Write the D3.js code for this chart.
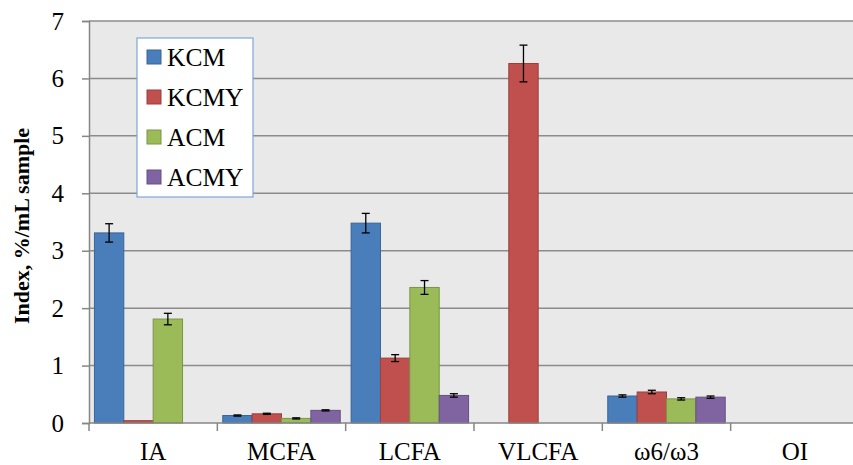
<!DOCTYPE html>
<html>
<head>
<meta charset="utf-8">
<script src="https://cdn.jsdelivr.net/npm/d3@7"></script>
<style>
  body { margin: 0; background: #fff; }
  text { font-family: "Liberation Serif", "Times New Roman", Tinos, serif; fill: #000; }
</style>
</head>
<body>
<div id="chart"></div>
<script>
// data
const categories = ["IA", "MCFA", "LCFA", "VLCFA", "ω6/ω3", "OI"];
const seriesNames = ["KCM", "KCMY", "ACM", "ACMY"];
const KCM  = [3.31, 0.13, 3.48, 0,    0.47, 0];
const KCMY = [0.04, 0.16, 1.13, 6.26, 0.54, 0];
const ACM  = [1.81, 0.08, 2.36, 0,    0.42, 0];
const ACMY = [0,    0.22, 0.48, 0,    0.45, 0];
const KCM_err  = [0.16, 0.01, 0.17, 0,    0.02, 0];
const KCMY_err = [0,    0.01, 0.06, 0.32, 0.03, 0];
const ACM_err  = [0.10, 0.01, 0.12, 0,    0.02, 0];
const ACMY_err = [0,    0.01, 0.03, 0,    0.02, 0];
const yTicks = [0, 1, 2, 3, 4, 5, 6, 7];

const colors = ["#4a7ebb", "#c0504d", "#9bbb59", "#8064a2"];
const strokes = ["#3a6496", "#9c3f3c", "#7b9547", "#655082"];

const values = [KCM, KCMY, ACM, ACMY];
const errors = [KCM_err, KCMY_err, ACM_err, ACMY_err];

const width = 853, height = 465,
    margin = ({top: 21, right: -6, bottom: 42, left: 89});

let svg = d3.select("#chart").append("svg")
    .attr("width", width).attr("height", height);

let x = d3.scaleBand()
    .domain(categories)
    .range([margin.left, width - margin.right]);

// bars inside each category
let xs = d3.scaleBand()
    .domain(seriesNames)
    .range([0, x.bandwidth()])
    .paddingOuter(0.185);

let y = d3.scaleLinear()
    .domain([0, 7])
    .range([height - margin.bottom, margin.top]);

// plot background
svg.append("rect")
    .attr("x", margin.left).attr("y", y(7))
    .attr("width", width - margin.left).attr("height", y(0) - y(7))
    .attr("fill", "#e8e9e8");

// gridlines
svg.append("g")
    .selectAll("line")
    .data(yTicks.filter(d => d > 0))
    .join("line")
    .attr("x1", margin.left).attr("x2", width)
    .attr("y1", d => y(d)).attr("y2", d => y(d))
    .attr("stroke", "#8c8c8c").attr("stroke-width", 1.5);

// flatten to one row per bar
let rows = [];
seriesNames.forEach((s, i) => {
    categories.forEach((c, j) => {
        rows.push({series: s, cat: c, v: values[i][j], e: errors[i][j], i: i});
    });
});

const cx = d => x(d.cat) + xs(d.series) + xs.bandwidth() / 2;

svg.append("g")
    .selectAll("rect")
    .data(rows.filter(d => d.v > 0))
    .join("rect")
    .attr("x", d => x(d.cat) + xs(d.series))
    .attr("y", d => y(d.v))
    .attr("width", xs.bandwidth())
    .attr("height", d => y(0) - y(d.v))
    .attr("fill", d => colors[d.i])
    .attr("stroke", d => strokes[d.i])
    .attr("stroke-width", 1);

// error bars
let eb = svg.append("g")
    .selectAll("g")
    .data(rows.filter(d => d.e > 0))
    .join("g")
    .attr("stroke", "#000").attr("stroke-width", 1.3);

eb.append("line")
    .attr("x1", cx).attr("x2", cx)
    .attr("y1", d => y(d.v + d.e)).attr("y2", d => y(d.v - d.e));
eb.append("line")
    .attr("x1", d => cx(d) - 4).attr("x2", d => cx(d) + 4)
    .attr("y1", d => y(d.v + d.e)).attr("y2", d => y(d.v + d.e));
eb.append("line")
    .attr("x1", d => cx(d) - 4).attr("x2", d => cx(d) + 4)
    .attr("y1", d => y(d.v - d.e)).attr("y2", d => y(d.v - d.e));

// y axis
const yAxis = g => g
    .attr("transform", `translate(${margin.left}, 0)`)
    .call(d3.axisLeft(y).tickValues(yTicks).tickSize(7).tickPadding(18).tickFormat(d3.format("d")))
    .call(g => g.selectAll("line, path").attr("stroke", "#868686").attr("stroke-width", 1.5))
    .call(g => g.selectAll("text").attr("font-size", 25)
        .attr("font-family", "Liberation Serif, Times New Roman, serif").attr("fill", "#000"));
svg.append("g").call(yAxis);

// x axis
svg.append("line")
    .attr("x1", margin.left).attr("x2", width)
    .attr("y1", y(0)).attr("y2", y(0))
    .attr("stroke", "#868686").attr("stroke-width", 1.5);

svg.append("g")
    .selectAll("line")
    .data(categories)
    .join("line")
    .attr("x1", d => x(d)).attr("x2", d => x(d))
    .attr("y1", y(0)).attr("y2", y(0) + 8)
    .attr("stroke", "#868686").attr("stroke-width", 1.5);

svg.append("g")
    .selectAll("text")
    .data(categories)
    .join("text")
    .attr("x", d => x(d) + x.bandwidth() / 2)
    .attr("y", 460)
    .attr("text-anchor", "middle")
    .attr("font-size", 25)
    .text(d => d);

// y axis title
svg.append("text")
    .attr("transform", `translate(29, ${(y(0) + y(7)) / 2 + 4}) rotate(-90)`)
    .attr("text-anchor", "middle")
    .attr("font-size", 22)
    .attr("font-weight", "bold")
    .text("Index, %/mL sample");

// legend
let legend = svg.append("g").attr("transform", "translate(137, 38)");
legend.append("rect")
    .attr("width", 116).attr("height", 159)
    .attr("fill", "#fff").attr("stroke", "#7fa6d8").attr("stroke-width", 1.2);

let item = legend.selectAll("g")
    .data(seriesNames)
    .join("g")
    .attr("transform", (d, i) => `translate(10, ${19 + i * 40})`);
item.append("rect")
    .attr("x", 0).attr("y", -7)
    .attr("width", 14).attr("height", 14)
    .attr("fill", (d, i) => colors[i])
    .attr("stroke", (d, i) => strokes[i]);
item.append("text")
    .attr("x", 20).attr("y", 9)
    .attr("font-size", 25.5)
    .text(d => d);
</script>
</body>
</html>
